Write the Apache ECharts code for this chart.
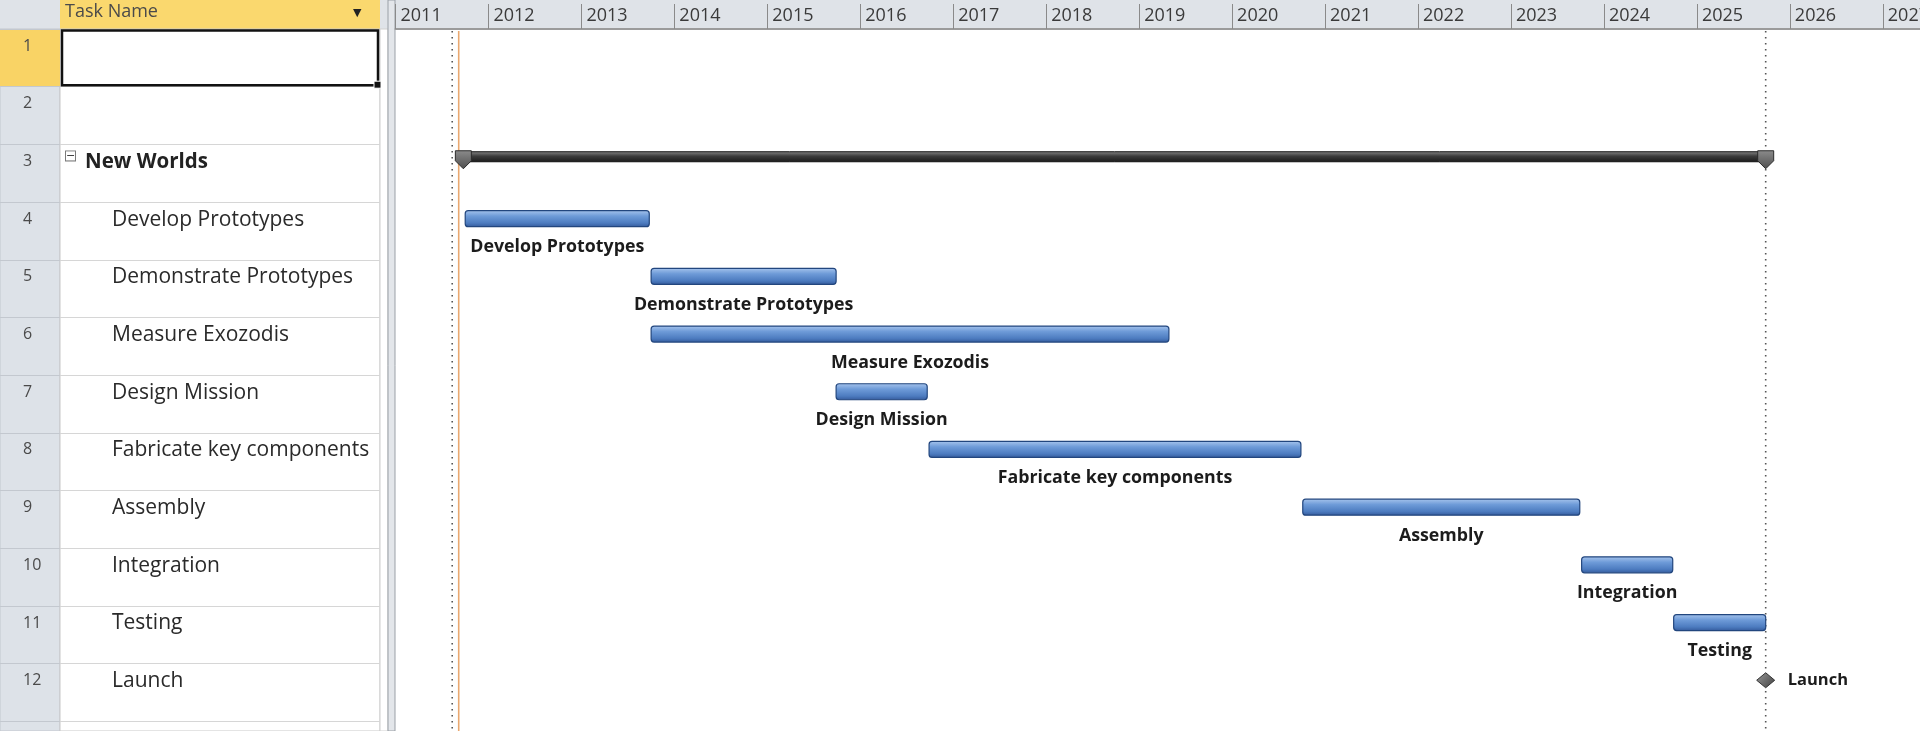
<!DOCTYPE html>
<html><head><meta charset="utf-8">
<script src="https://cdn.jsdelivr.net/npm/echarts@6/dist/echarts.min.js"></script>
<style>html,body{margin:0;padding:0;background:#fff;overflow:hidden}#c{width:1920px;height:731px}</style>
</head><body><div id="c"></div>
<script>
// ---------------- data ----------------
const rowNumbers = ['1','2','3','4','5','6','7','8','9','10','11','12','13'];
const taskNames = ['', '', 'New Worlds', 'Develop Prototypes', 'Demonstrate Prototypes', 'Measure Exozodis',
  'Design Mission', 'Fabricate key components', 'Assembly', 'Integration', 'Testing', 'Launch', ''];
const headerTitle = 'Task Name';
const summaryName = 'New Worlds';
const summaryStart = 2011.73;
const summaryEnd = 2025.74;
const barTasks = ['Develop Prototypes', 'Demonstrate Prototypes', 'Measure Exozodis', 'Design Mission',
  'Fabricate key components', 'Assembly', 'Integration', 'Testing'];
const barStarts = [2011.75, 2013.75, 2013.75, 2015.74, 2016.74, 2020.76, 2023.76, 2024.75];
const barEnds   = [2013.73, 2015.74, 2019.32, 2016.72, 2020.74, 2023.74, 2024.74, 2025.74];
const milestoneName = 'Launch';
const milestoneDate = 2025.74;
const yearMin = 2011;
const yearMax = 2027.40;
const projectStartLine = 2011.61;
const statusDateLine = 2011.68;
const projectFinishLine = 2025.74;
const selectedRow = '1';

// ---------------- layout / style ----------------
const W = 1920, H = 731;
const HEADER_H = 29, ROW_H = 57.7;
const BODY_H = H - HEADER_H;
const ROWS_VISIBLE = BODY_H / ROW_H;
const BAR_SHIFT = -12.3, SUM_SHIFT = -16.5;
const FONT = '"Open Sans", "Noto Sans", sans-serif';
const rowIndex = name => taskNames.indexOf(name);

const chart = echarts.init(document.getElementById('c'), null, {renderer: 'canvas'});

const hiddenX = g => ({gridIndex: g, type: 'value', min: 0, max: 1, show: false});
const hiddenY = g => ({gridIndex: g, type: 'value', min: 0, max: 1, show: false});
const rowAxis = (g, extra) => Object.assign({
  gridIndex: g, type: 'value', min: 0, max: ROWS_VISIBLE, interval: 1, inverse: true, z: 10,
  axisLine: {show: false}, axisTick: {show: false}
}, extra);

const taskGrad = new echarts.graphic.LinearGradient(0, 0, 0, 1, [
  {offset: 0, color: '#a9c6ee'}, {offset: 0.35, color: '#6e9bd8'}, {offset: 0.75, color: '#4d7cc0'}, {offset: 1, color: '#33599a'}]);
const sumGrad = new echarts.graphic.LinearGradient(0, 0, 0, 1, [
  {offset: 0, color: '#8a8a8a'}, {offset: 0.45, color: '#3c3c3c'}, {offset: 1, color: '#1a1a1a'}]);
const capGrad = new echarts.graphic.LinearGradient(0, 0, 0, 1, [
  {offset: 0, color: '#8c8c8c'}, {offset: 1, color: '#4e4e4e'}]);
const diaGrad = new echarts.graphic.LinearGradient(0, 0, 1, 1, [
  {offset: 0, color: '#9a9a9a'}, {offset: 1, color: '#3e3e3e'}]);

const G = o => Object.assign({outerBoundsMode: 'none', containLabel: false}, o);

const option = {
  backgroundColor: '#ffffff',
  animation: false,
  title: [
    {text: headerTitle, left: 65, top: 3, padding: 0, textStyle: {fontFamily: FONT, fontSize: 18, fontWeight: 'normal', color: '#4a4a4a'}},
    {text: '▼', left: 353, top: 8, padding: 0, textStyle: {fontFamily: 'DejaVu Sans', fontSize: 11, fontWeight: 'normal', color: '#222'}}
  ],
  grid: [
    G({left: 0, top: 0, width: W, height: HEADER_H, show: true, backgroundColor: '#dfe3e8', borderWidth: 0}),          // 0 header band
    G({left: 60, top: 0, width: 320, height: HEADER_H, show: true, backgroundColor: '#fad86e', borderWidth: 0}),       // 1 task name header
    G({left: 0, top: HEADER_H, width: 60, height: BODY_H, show: true, backgroundColor: '#dde2e8', borderColor: '#c2c7ce', borderWidth: 1}), // 2 row numbers
    G({left: 60, top: HEADER_H, width: 320, height: BODY_H, show: true, backgroundColor: '#ffffff', borderColor: '#c8c8c8', borderWidth: 1}), // 3 table
    G({left: 380, top: HEADER_H, width: 8, height: BODY_H, show: true, backgroundColor: '#ffffff', borderColor: '#d0d0d0', borderWidth: 1}), // 4 duration sliver
    G({left: 388, top: 0, width: 7, height: H, show: true, backgroundColor: '#e3e6ea', borderColor: '#9aa0a7', borderWidth: 1}),        // 5 split bar
    G({left: 395.5, top: HEADER_H, width: W - 395.5, height: BODY_H, show: false})                                     // 6 gantt
  ],
  xAxis: [
    hiddenX(0), hiddenX(1), hiddenX(2), hiddenX(3), hiddenX(4), hiddenX(5),
    {
      gridIndex: 6, type: 'value', position: 'top', min: yearMin, max: yearMax, interval: 1,
      axisLine: {show: true, onZero: false, lineStyle: {color: '#9b9b9b', width: 2}},
      axisTick: {show: true, inside: false, length: 25, lineStyle: {color: '#8a8a8a', width: 1}},
      splitLine: {show: false},
      axisLabel: {
        show: true, align: 'left', verticalAlign: 'middle', margin: 13, padding: [0, 0, 0, 5],
        showMaxLabel: false, fontFamily: FONT, fontSize: 18, color: '#3a3a3a',
        formatter: v => (Math.abs(v - Math.round(v)) < 1e-6 ? String(Math.round(v)) : '')
      }
    }
  ],
  yAxis: [
    hiddenY(0), hiddenY(1),
    rowAxis(2, {
      splitLine: {show: true, lineStyle: {color: '#c3c8cf', width: 1}},
      axisLabel: {inside: true, margin: 23, verticalAlign: 'top', padding: [9, 0, 0, 0],
        fontFamily: FONT, fontSize: 16, color: '#4a4a4a',
        formatter: v => (Number.isInteger(v) && rowNumbers[v]) ? rowNumbers[v] : ''}
    }),
    rowAxis(3, {
      splitLine: {show: true, lineStyle: {color: '#d6d6d6', width: 1}},
      axisLabel: {
        inside: true, margin: 6, verticalAlign: 'top', padding: [7, 0, 0, 0],
        formatter: v => {
          if (!Number.isInteger(v)) return '';
          const n = taskNames[v];
          if (!n) return '';
          if (n === summaryName) return '{box|−}{sum|' + n + '}';
          return '{sub|' + n + '}';
        },
        rich: {
          box: {width: 9, height: 9, lineHeight: 9, align: 'center', fontSize: 11, color: '#333',
                borderColor: '#7a7a7a', borderWidth: 1, backgroundColor: '#fff', fontFamily: 'DejaVu Sans',
                verticalAlign: 'top'},
          sum: {fontFamily: FONT, fontSize: 20.5, fontWeight: 'bold', color: '#222', padding: [0, 0, 0, 10]},
          sub: {fontFamily: FONT, fontSize: 21, color: '#2a2a2a', padding: [0, 0, 0, 46]}
        }
      }
    }),
    hiddenY(4), hiddenY(5),
    rowAxis(6, {show: false})
  ],
  series: [
    // selected row number cell
    {
      type: 'custom', xAxisIndex: 2, yAxisIndex: 2, z: 1, silent: true,
      data: [[0, rowNumbers.indexOf(selectedRow)]],
      renderItem: (params, api) => {
        const c = api.coord([0, api.value(1)]);
        const s = api.size([1, 1]);
        return {type: 'rect', shape: {x: c[0], y: c[1], width: s[0], height: s[1]},
          style: {fill: '#f9d365'}};
      }
    },
    // selected task cell border
    {
      type: 'custom', xAxisIndex: 3, yAxisIndex: 3, z: 12, silent: true,
      data: [[0, rowNumbers.indexOf(selectedRow)]],
      renderItem: (params, api) => {
        const c = api.coord([0, api.value(1)]);
        const s = api.size([1, 1]);
        const x = c[0] + 2, y = c[1] + 1.5, w = s[0] - 4, h = s[1] - 3;
        return {type: 'group', children: [
          {type: 'rect', shape: {x: x, y: y, width: w, height: h}, style: {fill: 'none', stroke: '#111', lineWidth: 2.5}},
          {type: 'rect', shape: {x: x + w - 4, y: y + h - 4, width: 7, height: 7}, style: {fill: '#111', stroke: '#fff', lineWidth: 1}}
        ]};
      }
    },
    // vertical reference lines
    {
      type: 'custom', xAxisIndex: 6, yAxisIndex: 6, z: 1, silent: true,
      data: [[projectStartLine, 0], [statusDateLine, 1], [projectFinishLine, 0]],
      renderItem: (params, api) => {
        const x = api.coord([api.value(0), 0])[0];
        const cs = params.coordSys;
        const kind = api.value(1);
        return {type: 'line', shape: {x1: x, y1: cs.y + 2, x2: x, y2: cs.y + cs.height},
          style: kind === 1 ? {stroke: '#e9a870', lineWidth: 1.6}
                            : {stroke: '#555', lineWidth: 1.6, lineDash: [1.6, 4.4]}};
      }
    },
    // summary bar
    {
      type: 'custom', xAxisIndex: 6, yAxisIndex: 6, z: 3, silent: true,
      data: [[summaryStart, summaryEnd, rowIndex(summaryName)]],
      renderItem: (params, api) => {
        const a = api.coord([api.value(0), api.value(2) + 0.5]);
        const b = api.coord([api.value(1), api.value(2) + 0.5]);
        const cy = a[1] + SUM_SHIFT;
        const top = cy - 5, h = 10;
        const cap = x => ({type: 'polygon', shape: {points: [[x - 8, top - 1], [x + 8, top - 1], [x + 8, top + 9], [x, top + 17], [x - 8, top + 9]]},
          style: {fill: capGrad, stroke: '#2b2b2b', lineWidth: 1}});
        return {type: 'group', children: [
          {type: 'rect', shape: {x: a[0], y: top, width: b[0] - a[0], height: h, r: 1}, style: {fill: sumGrad, stroke: '#111', lineWidth: 1}},
          cap(a[0]), cap(b[0])
        ]};
      }
    },
    // task bars
    {
      type: 'custom', xAxisIndex: 6, yAxisIndex: 6, z: 4, silent: true,
      data: barTasks.map((n, i) => [barStarts[i], barEnds[i], rowIndex(n)]),
      renderItem: (params, api) => {
        const a = api.coord([api.value(0), api.value(2) + 0.5]);
        const b = api.coord([api.value(1), api.value(2) + 0.5]);
        const cy = a[1] + BAR_SHIFT;
        const h = 16;
        return {type: 'group', children: [
          {type: 'rect', shape: {x: a[0], y: cy - h / 2, width: b[0] - a[0], height: h, r: 3},
            style: {fill: taskGrad, stroke: '#22467e', lineWidth: 1.2}},
          {type: 'text', style: {text: barTasks[params.dataIndex], x: (a[0] + b[0]) / 2, y: cy + 28.5,
            align: 'center', verticalAlign: 'middle', fontFamily: FONT, fontSize: 17.8, fontWeight: 'bold', fill: '#1c1c1c'}}
        ]};
      }
    },
    // milestone
    {
      type: 'custom', xAxisIndex: 6, yAxisIndex: 6, z: 5, silent: true,
      data: [[milestoneDate, rowIndex(milestoneName)]],
      renderItem: (params, api) => {
        const c = api.coord([api.value(0), api.value(1) + 0.5]);
        const x = c[0], y = c[1] + BAR_SHIFT;
        return {type: 'group', children: [
          {type: 'polygon', shape: {points: [[x - 9, y], [x, y - 7.5], [x + 9, y], [x, y + 7.5]]},
            style: {fill: diaGrad, stroke: '#333', lineWidth: 1}},
          {type: 'text', style: {text: milestoneName, x: x + 22, y: y, align: 'left', verticalAlign: 'middle',
            fontFamily: FONT, fontSize: 16.5, fontWeight: 'bold', fill: '#1c1c1c'}}
        ]};
      }
    }
  ]
};
chart.setOption(option);
</script>
</body></html>
